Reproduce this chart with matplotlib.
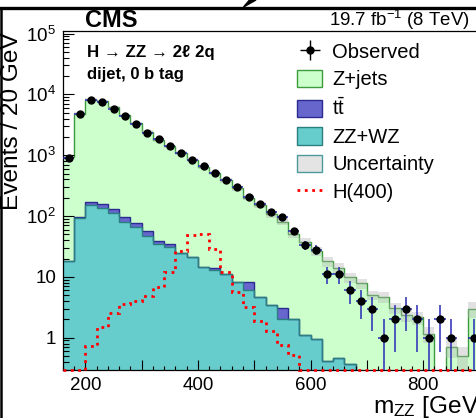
import numpy as np
import matplotlib
matplotlib.use('Agg')
import matplotlib.pyplot as plt
from matplotlib.lines import Line2D
from matplotlib.patches import Patch, Polygon
from matplotlib.ticker import FuncFormatter, FixedLocator, LogLocator, NullFormatter, MultipleLocator

plt.rcParams['font.family'] = ['Liberation Sans', 'DejaVu Sans']
plt.rcParams['mathtext.fontset'] = 'custom'
plt.rcParams['mathtext.rm'] = 'Liberation Sans'
plt.rcParams['mathtext.it'] = 'Liberation Sans:italic'
plt.rcParams['mathtext.bf'] = 'Liberation Sans:bold'

# bins of 20 GeV starting at 160 GeV
edges = np.arange(160, 160 + 20 * 38, 20)

observed = [903, 4700, 7960, 7480, 5830, 4360, 3220, 2320, 1830, 1400, 1090, 828, 668, 513,
            394, 299, 207, 155, 116, 97, 57, 33, 28, 11, 11, 6, 4, 3, 1, 2, 3, 2, 1, 2, 1, 0, 1]
zjets = [932, 4732, 8023, 7525, 6041, 4435, 3313, 2354, 1768, 1370, 1075, 807, 636, 491,
         374, 280, 192, 147, 103, 78, 49, 37, 26, 17.6, 13.5, 9.4, 7.8, 5.0, 4.7, 3.1, 2.35,
         2.15, 1.15, 0, 0.7, 0.5, 3.0]
ttbar = [0, 5, 13, 18, 16, 15, 12, 8.5, 5, 4, 0, 0, 0, 1, 0, 0, 2.2, 0, 0, 1, 0, 0, 0, 0,
         0, 0, 0, 0, 0, 0, 0, 0, 0, 0, 0, 0, 0]
zzwz = [18, 93, 154, 137, 113, 80, 65, 47.5, 34.4, 30.7, 25, 21, 14.3, 13, 11.2, 8.2, 6.0,
        4.7, 3.4, 2.05, 2.0, 1.1, 0.95, 0.41, 0.46, 0.37, 0, 0, 0, 0, 0, 0, 0, 0, 0, 0, 0]
h400 = [0, 0, 0.72, 1.5, 2.54, 3.6, 4.05, 4.85, 6.75, 12.2, 26.7, 48, 50.5, 28.8, 11.8, 5.7,
        3.25, 1.85, 1.3, 0.77, 0.51, 0, 0, 0, 0, 0, 0, 0, 0, 0, 0, 0, 0, 0, 0, 0, 0]
rel_unc = [0.08, 0.05, 0.05, 0.05, 0.05, 0.05, 0.05, 0.06, 0.06, 0.06, 0.07, 0.07, 0.08, 0.08,
           0.09, 0.1, 0.1, 0.11, 0.12, 0.13, 0.14, 0.15, 0.17, 0.18, 0.2, 0.2, 0.2, 0.18, 0.2,
           0.22, 0.22, 0.25, 0.3, 0, 0.35, 0.4, 0.3]
xticks = [200, 300, 400, 500, 600, 700, 800, 900]

W, H = 477, 418
fig = plt.figure(figsize=(W / 100, H / 100), dpi=100)
ax = fig.add_axes([63 / W, (H - 369.5) / H, 840 * 0.5625 / W, (369.5 - 31) / H])
ax.set_yscale('log')
ax.set_xlim(160, 1000)
ax.set_ylim(0.3, 1.1e5)

floor = 1e-3
obs = np.array(observed, dtype=float)
zz_top = np.maximum(np.array(zzwz), floor)
tt_top = np.maximum(np.array(zzwz) + np.array(ttbar), floor)
tot = np.array(zzwz) + np.array(ttbar) + np.array(zjets)
tot_top = np.maximum(tot, floor)
unc = np.array(rel_unc)

# stacked backgrounds
ax.stairs(zz_top, edges, baseline=floor, fill=True, color='#66cccc', lw=0)
ax.stairs(tt_top, edges, baseline=zz_top, fill=True, color='#6666cc', lw=0)
ax.stairs(tot_top, edges, baseline=tt_top, fill=True, color='#ccffcc', lw=0)
ax.stairs(tot_top, edges, baseline=None, color='#3d9a3d', lw=1)
ax.stairs(tt_top, edges, baseline=None, color='#2a2a90', lw=1)
ax.stairs(zz_top, edges, baseline=None, color='#2a7f7f', lw=1)

# uncertainty band
ax.stairs(np.maximum(tot * (1 + unc), floor), edges, baseline=np.maximum(tot * (1 - unc), floor),
          fill=True, color='#b4b4b4', alpha=0.4, lw=0)

# signal
ax.stairs(np.maximum(h400, 0.3), edges, baseline=None, color='#ff0000', ls=':', lw=2,
          clip_on=False, zorder=4)

# data
centers = 0.5 * (edges[:-1] + edges[1:])
m = obs > 0
err = np.sqrt(obs[m])
lo = np.minimum(err, obs[m] * 0.999)
ax.errorbar(centers[m], obs[m], xerr=10, yerr=[lo, err], fmt='o', color='black', ms=5,
            ecolor='#2b2bb8', elinewidth=1.1, capsize=0, zorder=5)
obs_proxy = ax.errorbar([-500], [1], xerr=[[8]], yerr=[[0.5]], fmt='o', color='black', ms=5,
                        elinewidth=1, capsize=0)

# axes style
ax.xaxis.set_major_locator(FixedLocator(xticks))
ax.xaxis.set_minor_locator(MultipleLocator(20))
ax.xaxis.set_major_formatter(FuncFormatter(lambda v, p: '%d' % v if v % 200 == 0 else ''))
ax.yaxis.set_major_locator(LogLocator(base=10, numticks=20))
ax.yaxis.set_minor_locator(LogLocator(base=10, subs=np.arange(2, 10), numticks=20))
ax.yaxis.set_minor_formatter(NullFormatter())


def yfmt(v, p):
    if v == 1:
        return '1'
    if v == 10:
        return '10'
    return r'$\mathregular{10^{%d}}$' % round(np.log10(v))


ax.yaxis.set_major_formatter(FuncFormatter(yfmt))
ax.tick_params(axis='both', which='both', direction='in', labelsize=13.5, width=0.8)
ax.tick_params(axis='y', which='major', length=7.9, pad=5)
ax.tick_params(axis='y', which='minor', length=4.3)
ax.tick_params(axis='x', which='major', length=7.2, pad=5.6)
ax.tick_params(axis='x', which='minor', length=3.2)
for s in ax.spines.values():
    s.set_linewidth(0.9)

# legend
handles = [obs_proxy,
           Patch(facecolor='#ccffcc', edgecolor='#3d9a3d'),
           Patch(facecolor='#6666cc', edgecolor='#2a2a90'),
           Patch(facecolor='#66cccc', edgecolor='#2a7f7f'),
           Patch(facecolor='#e4e4e4', edgecolor='#4d9999'),
           Line2D([], [], color='#ff0000', ls=':', lw=2)]
labels = ['Observed', 'Z+jets', r'$\mathregular{t\bar{t}}$', 'ZZ+WZ', 'Uncertainty', 'H(400)']
ax.legend(handles, labels, loc='upper left', bbox_to_anchor=(297 / W, (H - 42) / H),
          bbox_transform=fig.transFigure, frameon=False, fontsize=14.5, handlelength=1.25,
          handleheight=0.95, handletextpad=0.5, labelspacing=0.4, borderpad=0,
          borderaxespad=0)

# texts
fig.text(85 / W, (H - 27) / H, 'CMS', fontsize=17, fontweight='bold', va='baseline')
fig.text(470 / W, (H - 26.5) / H, r'19.7 fb$^{\mathregular{-1}}$ (8 TeV)', fontsize=13.4,
         ha='right', va='baseline')
fig.text(87 / W, (H - 56.7) / H, 'H → ZZ → 2ℓ 2q', fontsize=12.2, fontweight='bold',
         va='baseline')
fig.text(87 / W, (H - 78.5) / H, 'dijet, 0 b tag', fontsize=12, fontweight='bold',
         va='baseline')
fig.text(12.5 / W, (H - 121.5) / H, 'Events / 20 GeV', fontsize=17.6, rotation=90,
         ha='center', va='center')
fig.text(373 / W, (H - 413) / H, r'm$_{\mathregular{ZZ}}$ [GeV]', fontsize=17.6,
         va='baseline')

# frame of the cropped page
fig.add_artist(Line2D([0, 1], [(H - 7.5) / H] * 2, transform=fig.transFigure, color='black', lw=2.4))
fig.add_artist(Line2D([1.2 / W] * 2, [0, (H - 7.5) / H], transform=fig.transFigure, color='black', lw=1.8))
fig.add_artist(Polygon([[243.5 / W, (H - 7) / H], [256 / W, 1.0], [249.5 / W, 1.0]],
                       closed=True, transform=fig.transFigure, color='black'))

fig.savefig('out.png', dpi=100)
